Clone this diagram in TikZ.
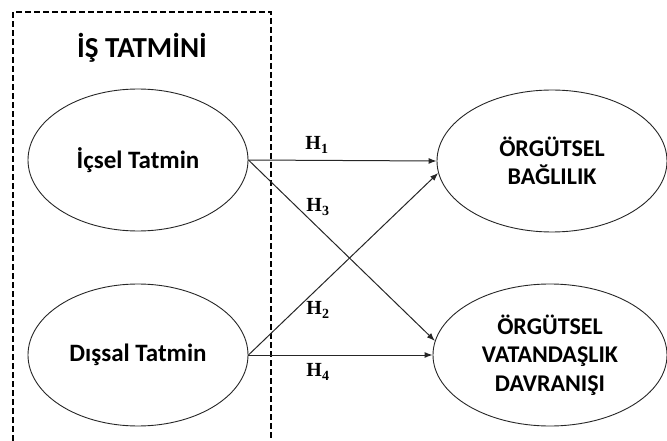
\documentclass[tikz,border=0pt]{standalone}
\usepackage{fontspec}
\setmainfont{Carlito}
\newfontfamily\hfont{Liberation Serif}
\usetikzlibrary{shapes, arrows.meta, calc}

\begin{document}
\begin{tikzpicture}[x=1pt, y=-1pt,
    oval/.style={ellipse, draw=black!85, line width=0.9pt, minimum width=220pt, minimum height=142pt, inner sep=0pt, align=center, font=\fontsize{24}{28.5}\selectfont\bfseries},
    path/.style={-{Latex[length=8pt,width=6pt]}, draw=black!85, line width=1pt},
    hyp/.style={font=\hfont\fontsize{20}{20}\selectfont\bfseries}]
  \useasboundingbox (0,0) rectangle (667,441);
  \draw[line width=1.6pt, dash pattern=on 6pt off 3pt] (13,441) |- (271,12) -- (271,441);
  \node (title) at (142,48) {\fontsize{29}{32}\selectfont\bfseries İŞ TATMİNİ};
  \node[oval, font=\fontsize{25}{29}\selectfont\bfseries] (ic) at (138,160) {İçsel Tatmin};
  \node[oval, font=\fontsize{25}{29}\selectfont\bfseries] (dis) at (138,355) {Dışsal Tatmin};
  \node[oval, minimum width=230pt] (bag) at (552,161) {ÖRGÜTSEL\\BAĞLILIK};
  \node[oval, minimum width=234pt] (ovd) at (550,355) {ÖRGÜTSEL\\VATANDAŞLIK\\DAVRANIŞI};
  \draw[path] (ic.east) -- (bag.west);
  \draw[path] (dis.east) -- (bag.186);
  \draw[path] (ic.east) -- (ovd.173);
  \draw[path] (dis.east) -- (ovd.west);
  \node[hyp] (h1) at (317,145) {H\textsubscript{1}};
  \node[hyp] (h3) at (318,207) {H\textsubscript{3}};
  \node[hyp] (h2) at (318,310) {H\textsubscript{2}};
  \node[hyp] (h4) at (318,372) {H\textsubscript{4}};
\end{tikzpicture}
\end{document}
